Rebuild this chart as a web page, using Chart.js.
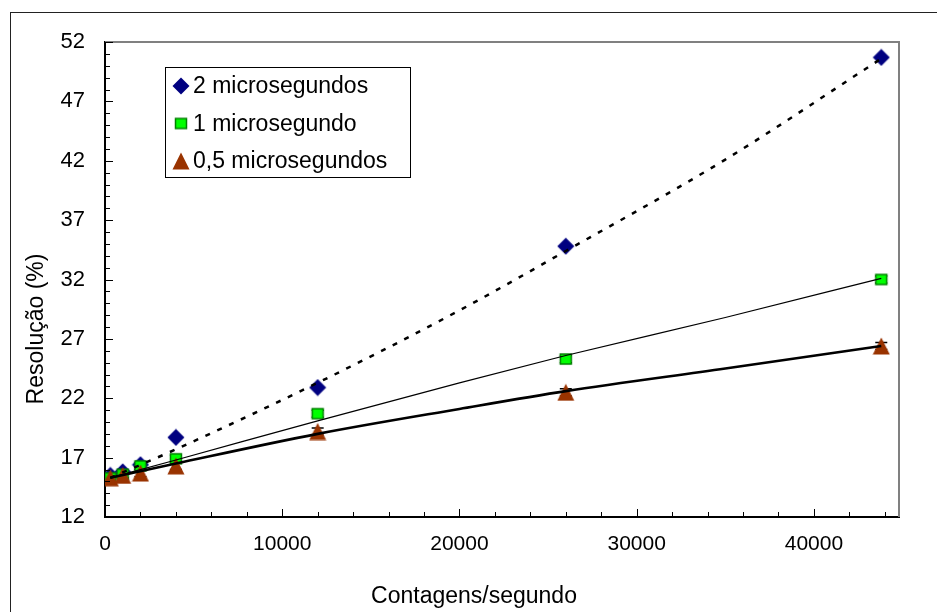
<!DOCTYPE html>
<html>
<head>
<meta charset="utf-8">
<title>Resolução vs contagens</title>
<script src="https://cdn.jsdelivr.net/npm/chart.js@4.4.1/dist/chart.umd.min.js"></script>
<style>
    html, body { margin: 0; padding: 0; background: #fff; overflow: hidden; }
    #wrap { position: relative; width: 937px; height: 612px; }
    #frame { position: absolute; left: 10px; top: 12px; width: 1000px; height: 700px; border: 1px solid #222; }
    #resChart { position: absolute; left: 0; top: 0; }
</style>
</head>
<body>
<div id="wrap">
    <div id="frame"></div>
    <canvas id="resChart" width="937" height="612"></canvas>
</div>
<script>
// Measured points
const counts = [300, 1000, 2000, 4000, 12000, 26000, 43800];
const res2us = [15.5, 15.8, 16.4, 18.7, 22.9, 34.8, 50.7];
const res1us = [15.3, 15.6, 16.3, 16.9, 20.7, 25.3, 32.0];
const res05us = [15.3, 15.5, 15.7, 16.3, 19.2, 22.5, 26.4];
const err1us = [0.3, 0.3, 0.3, 0.3, 0.3, 0.3, 0.3];
const err05us = [0.3, 0.3, 0.3, 0.3, 0.3, 0.3, 0.3];

// Trend lines
const trendX = [300, 4000, 12000, 20000, 26000, 35000, 43800];
const trend2us = [15.3, 17.7, 23.3, 29.4, 34.4, 42.1, 50.6];
const trend1us = [15.3, 16.8, 20.1, 23.3, 25.6, 28.8, 32.1];
const trend05us = [15.3, 16.5, 19.0, 21.1, 22.6, 24.5, 26.4];

const seriesNames = ['2 microsegundos', '1 microsegundo', '0,5 microsegundos'];
const xTicks = [0, 10000, 20000, 30000, 40000];
const yTicks = [12, 17, 22, 27, 32, 37, 42, 47, 52];

const FONT = 'Arial, "Liberation Sans", sans-serif';

// marker images, Excel style
function makeMarker(kind) {
    const c = document.createElement('canvas');
    c.width = 18; c.height = 18;
    const g = c.getContext('2d');
    g.beginPath();
    if (kind === 'diamond') {
        g.fillStyle = '#000080';
        g.moveTo(9, 0.5); g.lineTo(17.5, 9); g.lineTo(9, 17.5); g.lineTo(0.5, 9);
        g.closePath(); g.fill();
    } else if (kind === 'square') {
        g.fillStyle = '#00ff00';
        g.strokeStyle = '#008000';
        g.lineWidth = 1.5;
        g.rect(3.5, 4, 11, 10);
        g.fill(); g.stroke();
    } else {
        g.fillStyle = '#993300';
        g.moveTo(9, 0.5); g.lineTo(17.5, 17.5); g.lineTo(0.5, 17.5);
        g.closePath(); g.fill();
    }
    return c;
}
const markers = [makeMarker('diamond'), makeMarker('square'), makeMarker('triangle')];

const toXY = (xs, ys) => xs.map((x, i) => ({ x: x, y: ys[i] }));

// inward tick marks + grey top/right frame of the plot
const frameTicks = {
    id: 'frameTicks',
    afterDraw(chart) {
        const { ctx, chartArea: a, scales: { x, y } } = chart;
        ctx.save();
        ctx.strokeStyle = '#808080';
        ctx.lineWidth = 2;
        ctx.beginPath();
        ctx.moveTo(a.left, a.top); ctx.lineTo(a.right, a.top); ctx.lineTo(a.right, a.bottom);
        ctx.stroke();
        ctx.strokeStyle = '#000';
        ctx.lineWidth = 1;
        ctx.beginPath();
        for (let v = 0; v <= x.max; v += 2000) {
            const px = Math.round(x.getPixelForValue(v)) + 0.5;
            const len = v % 10000 === 0 ? 8 : 5;
            ctx.moveTo(px, a.bottom); ctx.lineTo(px, a.bottom - len);
        }
        for (let v = y.min; v <= y.max; v += 1) {
            const py = Math.round(y.getPixelForValue(v)) + 0.5;
            const len = (v - y.min) % 5 === 0 ? 8 : 5;
            ctx.moveTo(a.left, py); ctx.lineTo(a.left + len, py);
        }
        ctx.stroke();
        ctx.restore();
    }
};

// small vertical error bars under the markers
const errorBars = {
    id: 'errorBars',
    beforeDatasetsDraw(chart) {
        const { ctx, scales: { x, y } } = chart;
        ctx.save();
        ctx.strokeStyle = '#000';
        ctx.lineWidth = 1.5;
        chart.data.datasets.forEach(ds => {
            if (!ds.errors) return;
            ds.data.forEach((p, i) => {
                const px = x.getPixelForValue(p.x);
                const y1 = y.getPixelForValue(p.y + ds.errors[i]);
                const y2 = y.getPixelForValue(p.y - ds.errors[i]);
                ctx.beginPath();
                ctx.moveTo(px, y1); ctx.lineTo(px, y2);
                ctx.moveTo(px - 6, y1); ctx.lineTo(px + 6, y1);
                ctx.moveTo(px - 6, y2); ctx.lineTo(px + 6, y2);
                ctx.stroke();
            });
        });
        ctx.restore();
    }
};

// legend box inside the plot
const boxLegend = {
    id: 'boxLegend',
    afterDraw(chart) {
        const { ctx } = chart;
        const left = 165, top = 67, w = 245, h = 110, rowH = 37.5;
        ctx.save();
        ctx.fillStyle = '#fff';
        ctx.fillRect(left, top, w, h);
        ctx.strokeStyle = '#000';
        ctx.lineWidth = 1;
        ctx.strokeRect(left + 0.5, top + 0.5, w, h);
        ctx.font = '23px ' + FONT;
        ctx.fillStyle = '#000';
        ctx.textBaseline = 'middle';
        seriesNames.forEach((name, i) => {
            const cy = top + 19 + i * rowH;
            const m = markers[i];
            ctx.drawImage(m, 181 - m.width / 2, cy - m.height / 2);
            ctx.fillText(name, 193, cy + 1);
        });
        ctx.restore();
    }
};

// axis titles
const axisTitles = {
    id: 'axisTitles',
    afterDraw(chart) {
        const { ctx } = chart;
        ctx.save();
        ctx.font = '23px ' + FONT;
        ctx.fillStyle = '#000';
        ctx.textAlign = 'center';
        ctx.textBaseline = 'middle';
        ctx.fillText('Contagens/segundo', 474, 597);
        ctx.translate(37, 329);
        ctx.rotate(-Math.PI / 2);
        ctx.fillText('Resolução (%)', 0, 0);
        ctx.restore();
    }
};

const trendBase = { type: 'line', pointRadius: 0, fill: false, borderColor: '#000', cubicInterpolationMode: 'monotone', order: 0 };

new Chart(document.getElementById('resChart'), {
    type: 'scatter',
    data: {
        datasets: [
            { label: seriesNames[0], data: toXY(counts, res2us), pointStyle: markers[0], order: 3 },
            { label: seriesNames[1], data: toXY(counts, res1us), pointStyle: markers[1], errors: err1us, order: 2 },
            { label: seriesNames[2], data: toXY(counts, res05us), pointStyle: markers[2], errors: err05us, order: 1 },
            { ...trendBase, data: toXY(trendX, trend2us), borderWidth: 2.5, borderDash: [5, 8] },
            { ...trendBase, data: toXY(trendX, trend1us), borderWidth: 1.2 },
            { ...trendBase, data: toXY(trendX, trend05us), borderWidth: 2.6 }
        ]
    },
    options: {
        responsive: false,
        animation: false,
        layout: { padding: { left: 10, top: 42, right: 38, bottom: 0 } },
        plugins: { legend: { display: false }, tooltip: { enabled: false } },
        scales: {
            x: {
                type: 'linear', min: 0, max: 44800,
                afterBuildTicks: s => { s.ticks = xTicks.map(v => ({ value: v })); },
                afterFit: s => { s.height = 95; },
                grid: { display: false, drawTicks: false },
                border: { color: '#000', width: 2 },
                ticks: { padding: 15, color: '#000', font: { family: FONT, size: 21 }, maxRotation: 0, callback: v => String(v) }
            },
            y: {
                type: 'linear', min: 12, max: 52,
                afterBuildTicks: s => { s.ticks = yTicks.map(v => ({ value: v })); },
                afterFit: s => { s.width = 95; },
                grid: { display: false, drawTicks: false },
                border: { color: '#000', width: 2 },
                ticks: { padding: 20, color: '#000', font: { family: FONT, size: 22 } }
            }
        }
    },
    plugins: [errorBars, frameTicks, boxLegend, axisTitles]
});
</script>
</body>
</html>
